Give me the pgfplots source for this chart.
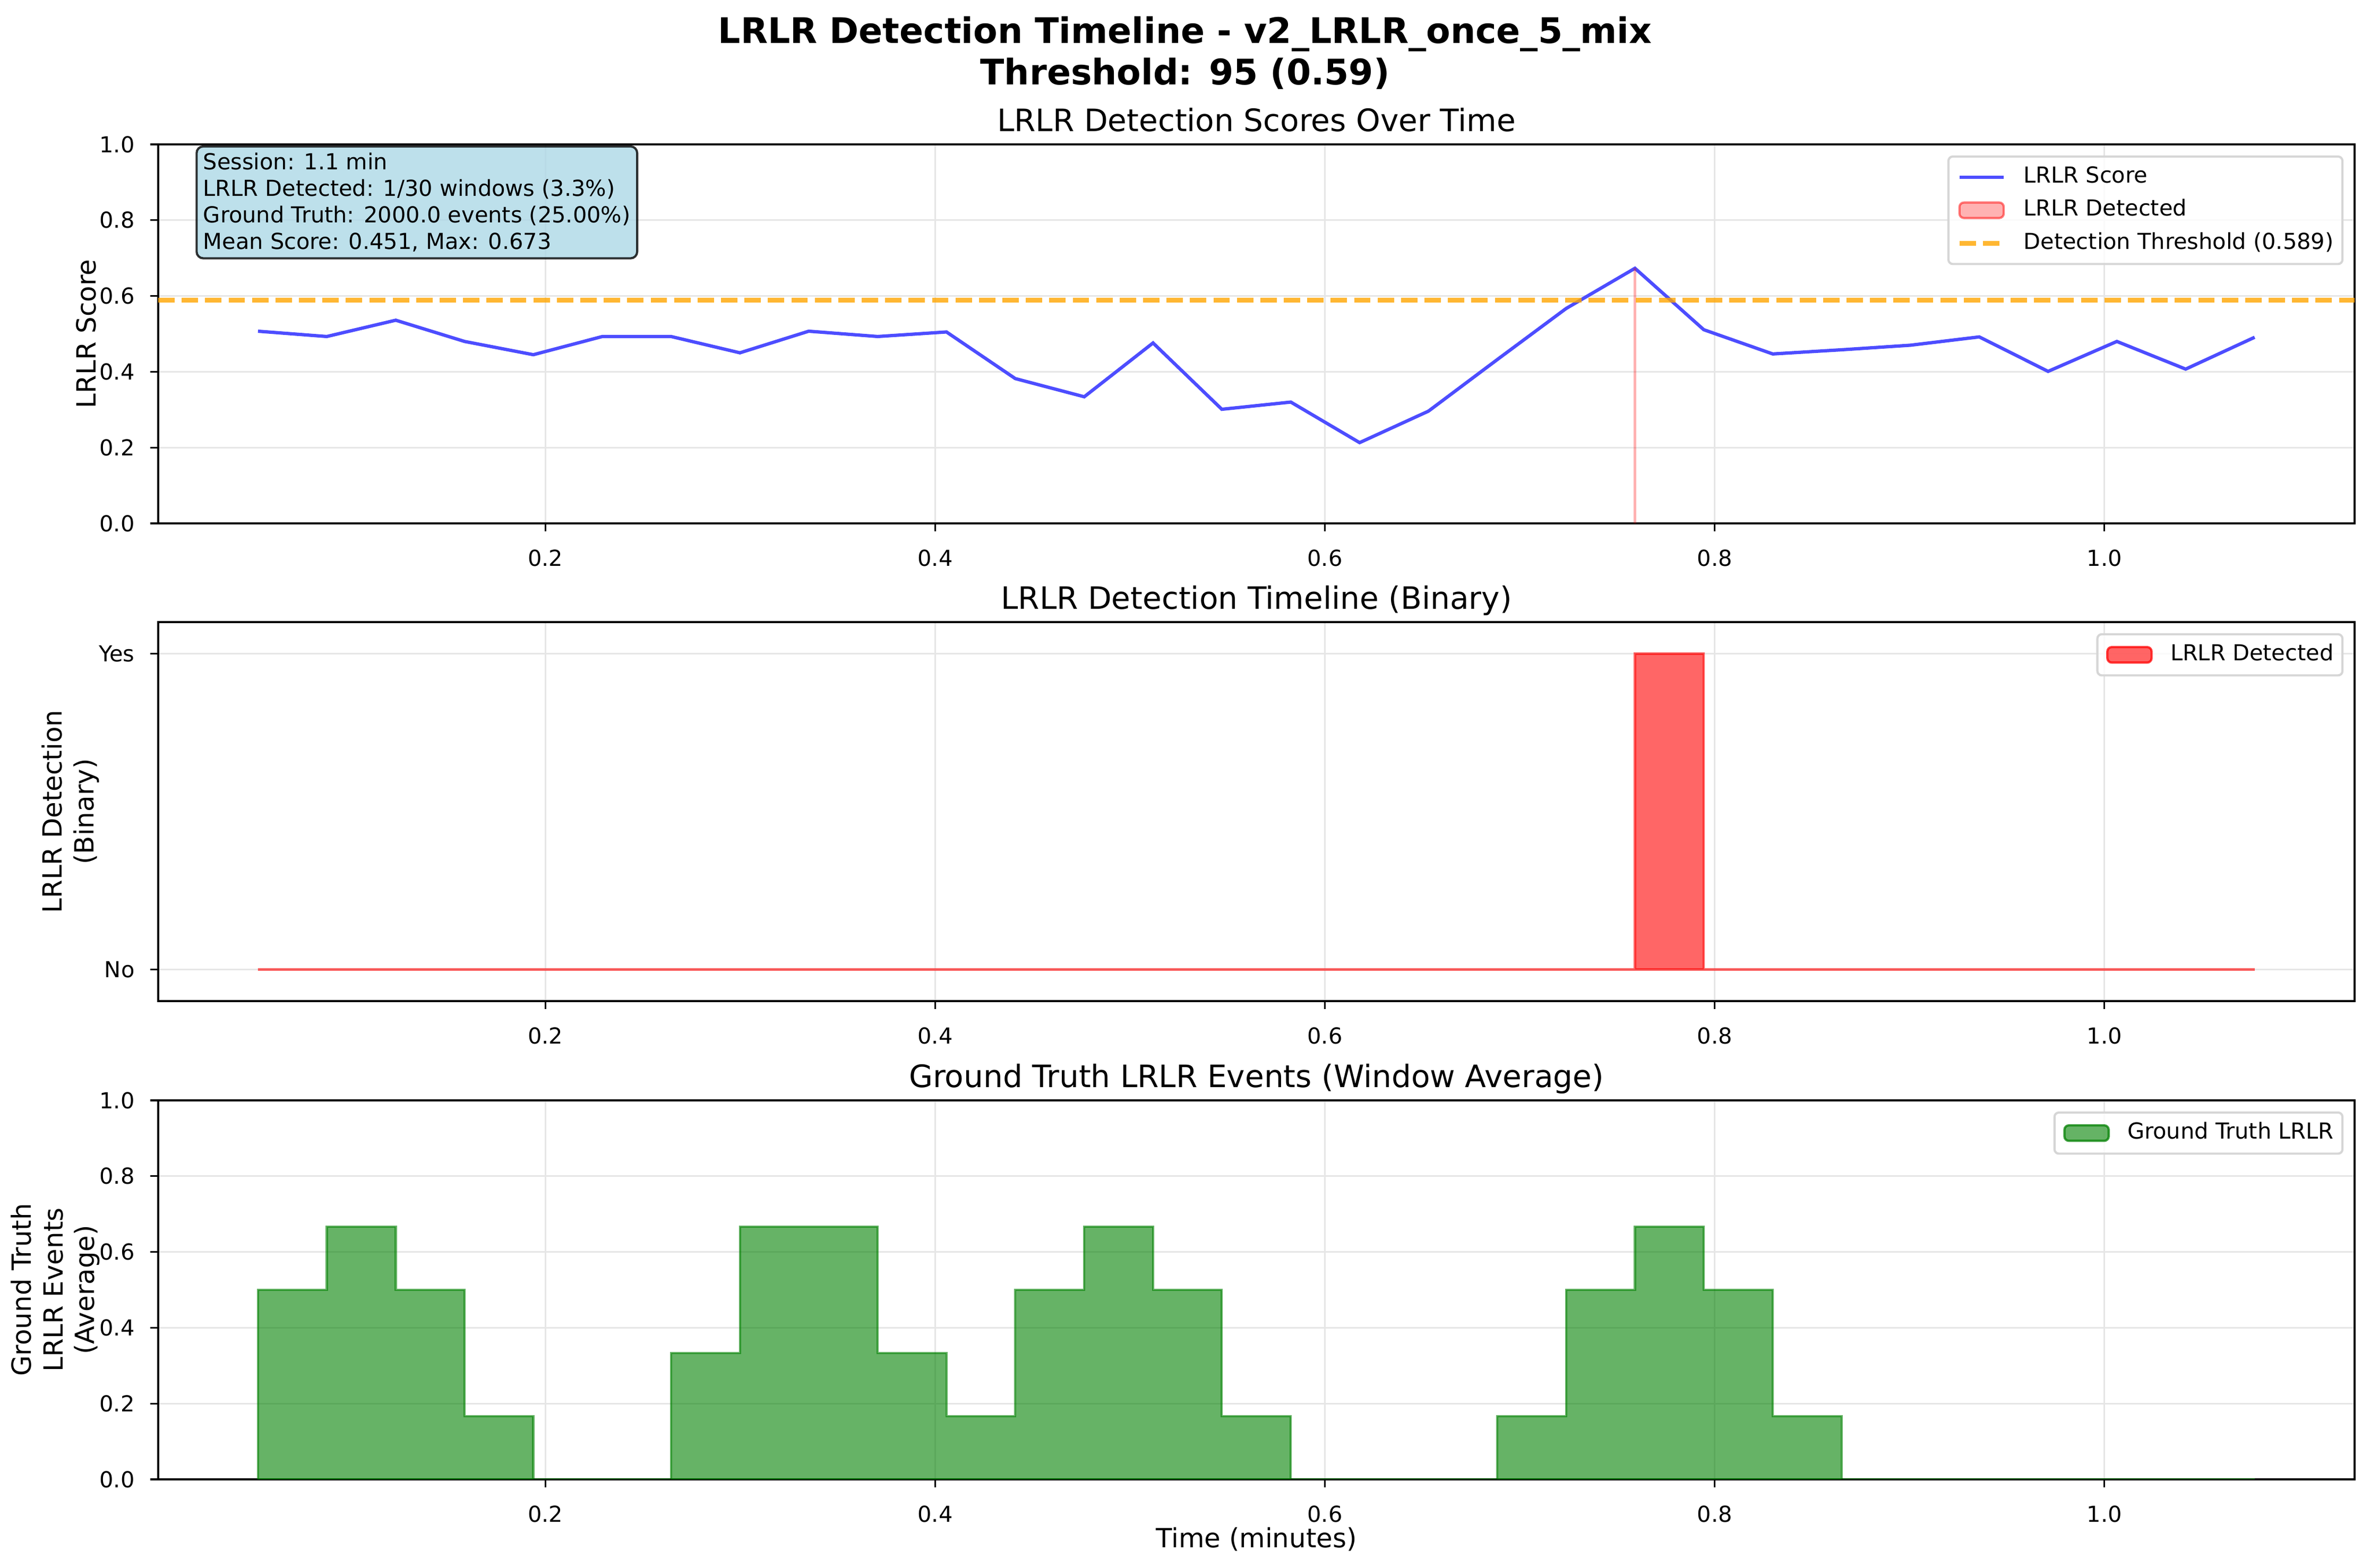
\documentclass[border=0pt]{standalone}
\usepackage{fontspec}
\setmainfont{DejaVu Sans}
\usepackage{pgfplots}
\pgfplotsset{compat=1.18}
\definecolor{scoreblue}{HTML}{4D4DFF}
\definecolor{throrange}{HTML}{FFA500}
\definecolor{gridgray}{HTML}{E6E6E6}
\definecolor{mplgreen}{HTML}{008000}
\definecolor{boxblue}{HTML}{ADD8E6}
\definecolor{legframe}{HTML}{D6D6D6}

\pgfplotsset{
  mypatch/.style={legend image code/.code={\draw[##1] (0bp,-3.5bp) rectangle (20bp,3.5bp);}},
  myline/.style={legend image code/.code={\draw[##1] (0bp,0bp) -- (20bp,0bp);}},
  panel/.style={
    scale only axis, width=992.88bp, height=171.36bp,
    xmin=0.0013, xmax=1.1284,
    xtick={0.2,0.4,0.6,0.8,1.0},
    tick align=outside, tick pos=left,
    major tick length=3.5bp,
    tick style={black, line width=0.8bp},
    axis line style={black, line width=0.8bp},
    grid=major,
    major grid style={gridgray, line width=0.8bp},
    /pgf/number format/assume math mode=true,
    xticklabel style={font=\fontsize{10}{12}\selectfont, inner sep=0pt, anchor=north,
      /pgf/number format/.cd, fixed, fixed zerofill, precision=1},
    yticklabel style={font=\fontsize{10}{12}\selectfont, inner sep=0pt, anchor=east,
      /pgf/number format/.cd, fixed, fixed zerofill, precision=1},
    xticklabel shift=8.2bp,
    yticklabel shift=7bp,
    title style={at={(0.5,1)}, anchor=base, inner sep=0pt, font=\fontsize{14}{16.8}\selectfont},
    ylabel style={rotate=0, anchor=south, inner sep=0pt, align=center, font=\fontsize{12}{14.4}\selectfont},
    xlabel style={at={(axis description cs:0.5,0)}, anchor=north, yshift=-21.6bp, inner sep=0pt, font=\fontsize{12}{14.4}\selectfont},
    legend style={at={(1,1)}, anchor=north east, xshift=-5bp, yshift=-5bp,
      draw=legframe, line width=1bp, rounded corners=2bp, fill=white, fill opacity=0.8, text opacity=1,
      inner xsep=4bp, inner ysep=4.3bp, row sep=5bp,
      nodes={inner sep=0pt, text height=7.5bp, text depth=2.5bp, font=\fontsize{10}{12}\selectfont},
      /tikz/every odd column/.append style={column sep=8bp}},
    legend cell align=left,
  }
}

\begin{document}
\begin{tikzpicture}
\path[use as bounding box] (0,0) rectangle (1071.36bp,708.72bp);

\node[anchor=base, inner sep=0pt, font=\fontsize{16}{19.2}\selectfont\bfseries] at (535.68bp,689.04bp) {LRLR Detection Timeline - v2\_LRLR\_once\_5\_mix};
\node[anchor=base, inner sep=0pt, font=\fontsize{16}{19.2}\selectfont\bfseries] at (535.68bp,670.32bp) {Threshold: 95 (0.59)};

% ---------- top panel ----------
\begin{axis}[panel, at={(71.52bp,472.08bp)}, anchor=south west,
  ymin=0, ymax=1, ytick={0,0.2,0.4,0.6,0.8,1.0},
  title={LRLR Detection Scores Over Time},
  ylabel={LRLR Score},
  ylabel style={at={(axis description cs:-0.028,0.5)}},
]
\addplot[scoreblue, line width=1.5bp, forget plot] coordinates {
(0.0525,0.507) (0.0878,0.493) (0.1232,0.536) (0.1585,0.480) (0.1938,0.445)
(0.2292,0.493) (0.2645,0.493) (0.2998,0.450) (0.3351,0.507) (0.3705,0.493)
(0.4058,0.505) (0.4411,0.382) (0.4765,0.334) (0.5118,0.476) (0.5471,0.301)
(0.5825,0.320) (0.6178,0.213) (0.6531,0.296) (0.6884,0.432) (0.7238,0.567)
(0.7591,0.673) (0.7944,0.511) (0.8298,0.447) (0.8651,0.458) (0.9004,0.470)
(0.9358,0.492) (0.9711,0.401) (1.0064,0.480) (1.0417,0.407) (1.0771,0.491)
};
\addplot[red, draw opacity=0.3, line width=1bp, forget plot] coordinates {(0.7591,0) (0.7591,0.673)};
\addplot[throrange, draw opacity=0.8, line width=2bp, dash pattern=on 7.4bp off 3.2bp, forget plot]
  coordinates {(0.0013,0.589) (1.1284,0.589)};
\addlegendimage{myline, scoreblue, line width=1.5bp}
\addlegendentry{LRLR Score}
\addlegendimage{mypatch, fill=red, fill opacity=0.3, draw=red, draw opacity=0.5, line width=1bp}
\addlegendentry{LRLR Detected}
\addlegendimage{myline, throrange, draw opacity=0.8, line width=2bp, dash pattern=on 7.4bp off 3.2bp}
\addlegendentry{Detection Threshold (0.589)}
\node[anchor=north west, inner sep=3bp, xshift=-3bp, yshift=3bp,
  fill=boxblue, fill opacity=0.8, draw=black, draw opacity=0.8, text opacity=1,
  rounded corners=3bp, line width=1bp, align=left, font=\fontsize{10}{12}\selectfont]
  at (rel axis cs:0.02,0.98)
  {Session: 1.1 min\\LRLR Detected: 1/30 windows (3.3\%)\\Ground Truth: 2000.0 events (25.00\%)\\Mean Score: 0.451, Max: 0.673};
\end{axis}

% ---------- middle panel ----------
\begin{axis}[panel, at={(71.52bp,256.08bp)}, anchor=south west,
  ymin=-0.1, ymax=1.1, ytick={0,1}, yticklabels={No,Yes},
  title={LRLR Detection Timeline (Binary)},
  ylabel={LRLR Detection\\(Binary)},
  ylabel style={at={(axis description cs:-0.0267,0.5)}},
]
\addplot[const plot, fill=red, fill opacity=0.6, draw=red, draw opacity=0.6, line width=1bp, forget plot] coordinates {
(0.0525,0) (0.0878,0) (0.1232,0) (0.1585,0) (0.1938,0)
(0.2292,0) (0.2645,0) (0.2998,0) (0.3351,0) (0.3705,0)
(0.4058,0) (0.4411,0) (0.4765,0) (0.5118,0) (0.5471,0)
(0.5825,0) (0.6178,0) (0.6531,0) (0.6884,0) (0.7238,0)
(0.7591,1) (0.7944,0) (0.8298,0) (0.8651,0) (0.9004,0)
(0.9358,0) (0.9711,0) (1.0064,0) (1.0417,0) (1.0771,0)
} \closedcycle;
\addlegendimage{mypatch, fill=red, fill opacity=0.6, draw=red, draw opacity=0.75, line width=1bp}
\addlegendentry{LRLR Detected}
\end{axis}

% ---------- bottom panel ----------
\begin{axis}[panel, at={(71.52bp,39.84bp)}, anchor=south west,
  ymin=0, ymax=1, ytick={0,0.2,0.4,0.6,0.8,1.0},
  title={Ground Truth LRLR Events (Window Average)},
  ylabel={Ground Truth\\LRLR Events\\(Average)},
  ylabel style={at={(axis description cs:-0.0263,0.5)}},
  xlabel={Time (minutes)},
]
\addplot[const plot, fill=mplgreen, fill opacity=0.6, draw=mplgreen, draw opacity=0.6, line width=1bp, forget plot] coordinates {
(0.0525,0.5) (0.0878,0.6667) (0.1232,0.5) (0.1585,0.1667) (0.1938,0)
(0.2292,0) (0.2645,0.3333) (0.2998,0.6667) (0.3351,0.6667) (0.3705,0.3333)
(0.4058,0.1667) (0.4411,0.5) (0.4765,0.6667) (0.5118,0.5) (0.5471,0.1667)
(0.5825,0) (0.6178,0) (0.6531,0) (0.6884,0.1667) (0.7238,0.5)
(0.7591,0.6667) (0.7944,0.5) (0.8298,0.1667) (0.8651,0) (0.9004,0)
(0.9358,0) (0.9711,0) (1.0064,0) (1.0417,0) (1.0771,0)
} \closedcycle;
\addlegendimage{mypatch, fill=mplgreen, fill opacity=0.6, draw=mplgreen, draw opacity=0.75, line width=1bp}
\addlegendentry{Ground Truth LRLR}
\end{axis}
\end{tikzpicture}
\end{document}
